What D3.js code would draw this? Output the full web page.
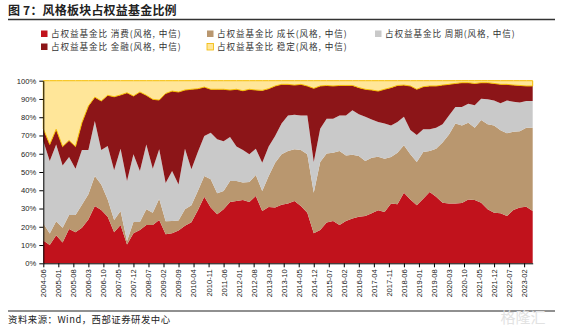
<!DOCTYPE html>
<html><head><meta charset="utf-8">
<script src="https://cdn.jsdelivr.net/npm/d3@7"></script>
<style>
html,body{margin:0;padding:0;background:#fff;}
svg{display:block;}
</style></head>
<body><svg id="c" width="563" height="328"></svg>
<script>
// Quarterly observations, starting 2004-06, ending 2023-06
const startYear = 2004, startMonth = 6, stepMonths = 3;
const consumer = [12.5,10,15.3,11.4,18.8,17,19.5,24,31.4,29.2,25.5,17,21,10.3,16.4,18.2,21,21,23.7,15.9,16.4,18,20.5,22.5,29,36.5,30.5,26.8,29.6,33.6,34.1,34.7,33.6,36.9,28.6,30.8,30.5,32,32.7,34.1,31.4,27.7,16.4,18.2,22.3,23.2,21,23.2,24.5,25.5,25.9,27.4,29,28.1,32.7,32.3,38.7,35,31.8,35.4,39.1,36.5,33.2,32.7,32.7,33,35,34.7,33.2,29.6,27.7,27.4,25.9,29.2,30.5,31,28.6];
const growth = [9.5,6.3,7.7,8.1,7.6,9.5,12.5,13.8,16.4,14,9.5,6.7,7.6,1.9,6.2,4.4,8.6,6.7,11.7,7.1,6.8,5.5,9.1,9.3,10.6,11.3,15.5,11.5,10,11.5,11,9.5,10.9,11.5,11,17,24.6,27.7,28.8,28.3,30.6,32,22.3,37.3,37.9,37.4,40.5,35.9,35,33.3,30.1,30.4,29.4,29.2,25.5,28.3,25.9,24.7,23.7,25.5,22.4,26.3,32.9,37.9,43.9,42.5,42,39.6,45.3,46.5,47.8,45.4,45.3,42.9,41.8,43.3,45.7];
const cycle = [45,39.7,42.1,34.1,31.8,25.3,30,24.2,30.1,18.8,29.2,27.2,34.2,32.9,37.1,27.9,35.5,24.1,27,21,27.3,19.7,33.2,19.7,21.3,21.9,25.5,29.6,27.2,24.1,18.8,17.8,15.2,14.4,15.5,16.1,14.6,16.8,19.5,19,19,21.3,16.8,18.2,19,18.6,19.5,21.9,24.3,22.8,24.3,21,19,19.2,17.3,16.8,15.7,13.3,14.8,12.5,11.9,11.5,10,10.4,9,10.1,10.4,12.2,11.6,13.7,13.7,14.8,18,16.4,15.7,14.6,14.6];
const finance = [6.7,9.1,8.3,10.3,9.1,12.1,15,24.1,13.1,26.9,27.8,40.3,29.4,48.3,31.9,43.3,26.9,38,27,49,43.8,50.6,32.1,43.8,34.7,26.8,23.8,27.4,28.5,25.7,31.4,32.5,35.6,32.1,39.6,31.7,27.4,21.5,17,16.2,17,16.1,40.3,23.4,18.2,17.9,16.4,16.4,13.6,14.6,15,16.1,16.9,18.8,20.7,20,17.3,24.1,25,23.3,23.7,22.8,21.5,17,12.9,13.3,11.5,12,8.8,9.1,9.3,10.4,8.8,9.1,9.4,8.2,8.2];
const stable = [26.3,34.9,26.6,36.1,32.7,36.1,23,13.9,9,11.1,8,8.8,7.8,6.6,8.4,6.2,8,10.2,10.6,7,5.7,6.2,5.1,4.7,4.4,3.5,4.7,4.7,4.7,5.1,4.7,5.5,4.7,5.1,5.3,4.4,2.9,2,2,2.4,2,2.9,4.2,2.9,2.6,2.9,2.6,2.6,2.6,3.8,4.7,5.1,5.7,4.7,3.8,2.6,2.4,2.9,4.7,3.3,2.9,2.9,2.4,2,1.5,1.1,1.1,1.5,1.1,1.1,1.5,2,2,2.4,2.6,2.9,2.9];

const seriesKeys = ["consumer","growth","cycle","finance","stable"];
const colors = ["#C1121C","#B9976F","#C9C9C9","#8C1518","#FFE699"];
const legendLabels = [
  "占权益基金比 消费(风格, 中信)",
  "占权益基金比 成长(风格, 中信)",
  "占权益基金比 周期(风格, 中信)",
  "占权益基金比 金融(风格, 中信)",
  "占权益基金比 稳定(风格, 中信)"
];
const xTickLabels = ["2004-06","2005-01","2005-08","2006-03","2006-10","2007-05","2007-12","2008-07","2009-02","2009-09","2010-04","2010-11","2011-06","2012-01","2012-08","2013-03","2013-10","2014-05","2014-12","2015-07","2016-02","2016-09","2017-04","2017-11","2018-06","2019-01","2019-08","2020-03","2020-10","2021-05","2021-12","2022-07","2023-02"];
const yTicks = [0,10,20,30,40,50,60,70,80,90,100];
const titleText = "图 7：风格板块占权益基金比例";
const sourceText = "资料来源：Wind，西部证券研发中心";

(function(){
function monthOffset(s){const [yy,mm]=s.split("-").map(Number);return (yy-startYear)*12+(mm-startMonth);}

const rows = consumer.map((v,i)=>({
  m: i*stepMonths,
  consumer: v, growth: growth[i], cycle: cycle[i], finance: finance[i], stable: stable[i]
}));

const svg = d3.select("#c");
const pL = 43.3, pR = 532.7, pT = 80.7, pB = 263.3;
const lastM = rows[rows.length-1].m;
const x = d3.scaleLinear().domain([0,lastM]).range([pL,pR]);
const y = d3.scaleLinear().domain([0,100]).range([pB,pT]);

const cjk = "'Noto Sans CJK SC','Noto Sans',sans-serif";
const latin = "'Liberation Sans',Arial,sans-serif";

svg.append("text").attr("x",8).attr("y",15).attr("font-family",cjk).attr("font-weight","bold")
  .attr("font-size",12).attr("fill","#222").attr("letter-spacing",0.2).text(titleText);
svg.append("line").attr("x1",8).attr("x2",555).attr("y1",19.5).attr("y2",19.5)
  .attr("stroke","#333").attr("stroke-width",1.4);

// slots: row1 消费, 成长, 周期 ; row2 金融, 稳定
const legPos = [[41,34],[207,34],[375,34],[41,47],[207,47]];
legendLabels.forEach((lab,k)=>{
  const [lx,ly]=legPos[k];
  svg.append("rect").attr("x",lx).attr("y",ly-3.5).attr("width",6.5).attr("height",6.5)
    .attr("fill",colors[k]).attr("stroke",k===4?"#F2B900":"none").attr("stroke-width",0.8);
  svg.append("text").attr("x",lx+10).attr("y",ly+3).attr("font-family",cjk).attr("font-size",8.6)
    .attr("letter-spacing",0.9).attr("fill","#333").text(lab);
});

const stack = d3.stack().keys(seriesKeys);
const layers = stack(rows);
const area = d3.area().x(d=>x(d.data.m)).y0(d=>y(d[0])).y1(d=>y(d[1])).curve(d3.curveLinear);
svg.append("g").selectAll("path").data(layers).join("path")
  .attr("d",area).attr("fill",(d,i)=>colors[i])
  .attr("stroke",(d,i)=>i===4?"#F5BD00":"none").attr("stroke-width",(d,i)=>i===4?1:0)
  .attr("stroke-linejoin","round");

const yAxis = d3.axisLeft(y).tickValues(yTicks).tickFormat(d=>d+"%").tickSize(4).tickSizeOuter(0);
const gy = svg.append("g").attr("transform",`translate(${pL},0)`).call(yAxis);
gy.selectAll("text").attr("font-family",latin).attr("font-size",7.6).attr("fill","#222");
gy.selectAll("line,path").attr("stroke","#000");

const xAxis = d3.axisBottom(x).tickValues(xTickLabels.map(monthOffset))
  .tickFormat((d,i)=>xTickLabels[i]).tickSize(4).tickSizeOuter(0);
const gx = svg.append("g").attr("transform",`translate(0,${pB})`).call(xAxis);
gx.selectAll("line,path").attr("stroke","#000");
gx.selectAll("text").attr("font-family",latin).attr("font-size",7.6).attr("fill","#222")
  .attr("text-anchor","end").attr("transform","rotate(-90)")
  .attr("x",-6).attr("y",0).attr("dy","0.32em");

svg.append("line").attr("x1",8).attr("x2",555).attr("y1",311).attr("y2",311)
  .attr("stroke","#222").attr("stroke-width",1.2);
svg.append("text").attr("x",8).attr("y",322.5).attr("font-family",cjk).attr("font-size",9.4)
  .attr("letter-spacing",0.5).attr("fill","#222").text(sourceText);
svg.append("text").attr("x",523).attr("y",323).attr("font-family",cjk).attr("font-size",15)
  .attr("fill","#e2e2e2").attr("text-anchor","middle").text("格隆汇");
})();
</script></body></html>
